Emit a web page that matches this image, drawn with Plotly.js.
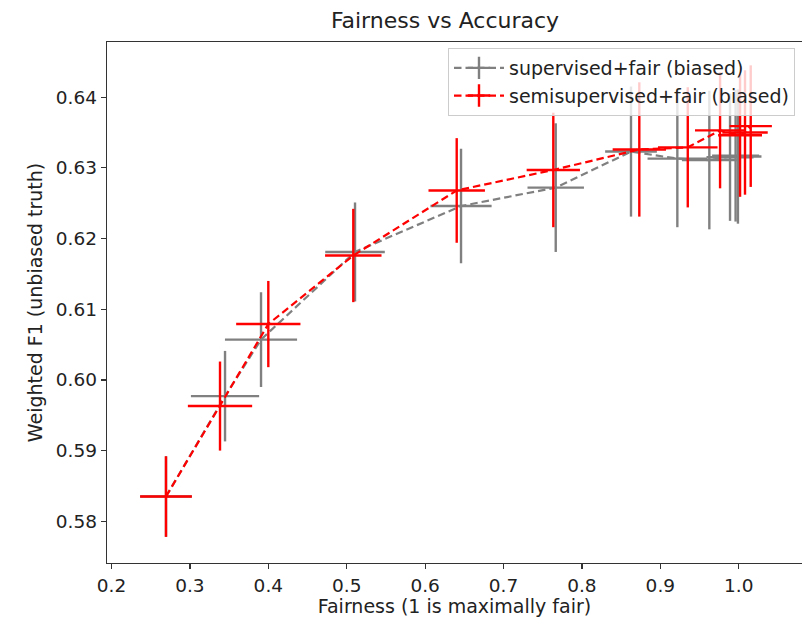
<!DOCTYPE html>
<html>
<head>
<meta charset="utf-8">
<script src="https://cdn.plot.ly/plotly-3.0.1.min.js"></script>
<style>html,body{margin:0;padding:0;background:#fff;}#chart{width:802px;height:621px;}</style>
</head>
<body>
<div id="chart"></div>
<script>
// Supervised + fair (biased) — grey
const supX    = [0.2695, 0.3448, 0.3907, 0.5106, 0.6458, 0.7666, 0.8626, 0.9217, 0.9625, 0.9889, 0.9960, 0.9990];
const supY    = [0.5835, 0.5977, 0.6057, 0.6181, 0.6246, 0.6272, 0.6323, 0.6313, 0.6311, 0.6315, 0.6317, 0.6316];
const supXErr = [0.033, 0.0435, 0.046, 0.038, 0.039, 0.036, 0.033, 0.038, 0.035, 0.030, 0.030, 0.030];
const supYErr = [0.0057, 0.0064, 0.0067, 0.0070, 0.0081, 0.0091, 0.0092, 0.0097, 0.0098, 0.0090, 0.0093, 0.0095];

// Semisupervised + fair (biased) — red
const semiX    = [0.2695, 0.3384, 0.4000, 0.5084, 0.6403, 0.7635, 0.8732, 0.9350, 0.9762, 1.0017, 1.0080, 1.0153];
const semiY    = [0.5835, 0.5963, 0.6079, 0.6176, 0.6268, 0.6297, 0.6326, 0.6329, 0.6353, 0.6346, 0.6350, 0.6359];
const semiXErr = [0.033, 0.041, 0.041, 0.036, 0.036, 0.034, 0.034, 0.038, 0.032, 0.028, 0.029, 0.027];
const semiYErr = [0.0057, 0.0063, 0.0061, 0.0066, 0.0074, 0.0081, 0.0095, 0.0085, 0.0082, 0.0087, 0.0088, 0.0086];

const xTicks = [0.2, 0.3, 0.4, 0.5, 0.6, 0.7, 0.8, 0.9, 1.0];
const yTicks = [0.58, 0.59, 0.60, 0.61, 0.62, 0.63, 0.64];

const labels = ["supervised+fair (biased)", "semisupervised+fair (biased)"];
const colors = ["#808080", "#ff0000"];
const FONT = "DejaVu Sans, sans-serif";
const DASH = "7.5px,4px";

function trace(x, y, ex, ey, color, name) {
  return {
    x: x, y: y, name: name, type: "scatter", mode: "lines", showlegend: false,
    line: {color: color, width: 2.2, dash: DASH},
    error_x: {type: "data", array: ex, visible: true, color: color, thickness: 2.4, width: 0},
    error_y: {type: "data", array: ey, visible: true, color: color, thickness: 2.4, width: 0}
  };
}

// legend-only handles (placed outside the axis range, clipped)
function handle(color, name) {
  return {
    x: [5], y: [5], name: name, type: "scatter", mode: "lines+markers", showlegend: true,
    line: {color: color, width: 2.2, dash: DASH},
    marker: {symbol: "cross-thin", size: 18, color: color, line: {color: color, width: 2.4}}
  };
}

const data = [
  trace(supX, supY, supXErr, supYErr, colors[0], labels[0]),
  trace(semiX, semiY, semiXErr, semiYErr, colors[1], labels[1]),
  handle(colors[0], labels[0]),
  handle(colors[1], labels[1])
];

const W = 802, H = 621, L = 107, R = 0, T = 42, B = 58;
const plotW = W - L - R, plotH = H - T - B;

const layout = {
  width: W, height: H,
  margin: {l: L, r: R, t: T, b: B, pad: 0},
  paper_bgcolor: "#fff", plot_bgcolor: "#fff",
  font: {family: FONT, size: 19, color: "#222"},
  title: {text: "Fairness vs Accuracy", font: {family: FONT, size: 22, color: "#222"},
          x: (445 - L) / plotW, xref: "paper", xanchor: "center", y: 1 - 20 / H, yanchor: "middle"},
  showlegend: true,
  legend: {x: (795 - L) / plotW, y: (H - B - 48) / plotH, xanchor: "right", yanchor: "top",
           bgcolor: "rgba(255,255,255,0.8)", bordercolor: "#cccccc", borderwidth: 1,
           itemwidth: 50,
           font: {family: FONT, size: 19, color: "#222"}, tracegroupgap: 0},
  xaxis: {
    range: [0.19426, 1.0807], tickvals: xTicks, ticktext: xTicks.map(v => v.toFixed(1)),
    showgrid: false, zeroline: false, showline: true, linecolor: "#333", linewidth: 1.3, mirror: true,
    ticks: "outside", ticklen: 5, tickwidth: 1.2, tickcolor: "#333",
    tickfont: {family: FONT, size: 18.5, color: "#222"},
    title: {text: "Fairness (1 is maximally fair)", font: {family: FONT, size: 19, color: "#222"}, standoff: 4}
  },
  yaxis: {
    range: [0.5741, 0.6478], tickvals: yTicks, ticktext: yTicks.map(v => v.toFixed(2)),
    showgrid: false, zeroline: false, showline: true, linecolor: "#333", linewidth: 1.3, mirror: false,
    ticks: "outside", ticklen: 5, tickwidth: 1.2, tickcolor: "#333",
    tickfont: {family: FONT, size: 18.5, color: "#222"},
    title: {text: "Weighted F1 (unbiased truth)", font: {family: FONT, size: 19, color: "#222"}, standoff: 8}
  }
};

Plotly.newPlot("chart", data, layout, {displayModeBar: false, staticPlot: true});
</script>
</body>
</html>
